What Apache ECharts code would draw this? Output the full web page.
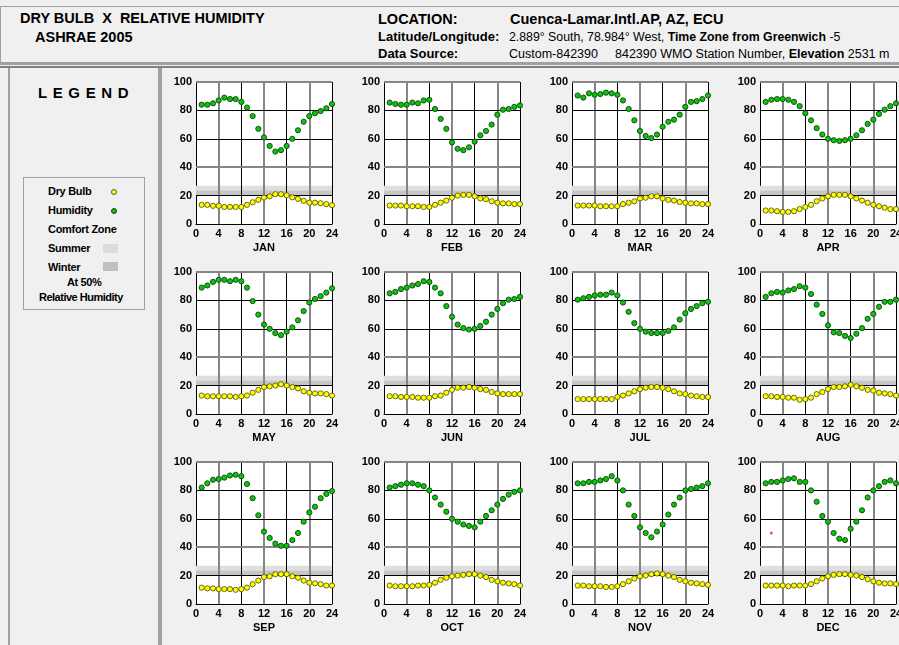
<!DOCTYPE html>
<html><head><meta charset="utf-8">
<script src="https://cdn.jsdelivr.net/npm/echarts@6.0.0/dist/echarts.min.js"></script>
<style>
html,body{margin:0;padding:0;width:899px;height:645px;overflow:hidden;background:#f0f0f0;font-family:"Liberation Sans",Arial,sans-serif;color:#000;}
.abs{position:absolute;white-space:pre;}
.b{font-weight:bold}
#chart{position:absolute;left:0;top:0;width:899px;height:645px;}
.lg{position:absolute;font-size:11px;font-weight:bold;line-height:13px;white-space:pre;letter-spacing:-0.3px}
</style></head><body>
<!-- header panel -->
<div class="abs" style="left:0;top:6px;width:910px;height:55px;border-top:1px solid #a0a0a0;border-left:1px solid #a0a0a0;border-bottom:2px solid #a0a0a0;"></div>
<div class="abs" style="left:0;top:64px;width:910px;height:0;border-top:1px solid #a0a0a0;"></div>
<div class="abs" style="left:0;top:66px;width:910px;height:0;border-top:2px solid #808080;"></div>
<!-- left panel -->
<div class="abs" style="left:8px;top:68px;width:148px;height:590px;border-left:2px solid #a0a0a0;border-right:2px solid #a0a0a0;"></div>
<div class="abs" style="left:160px;top:68px;width:760px;height:590px;border-left:2px solid #a0a0a0;"></div>

<div class="abs b" style="left:20px;top:10px;font-size:14.5px;line-height:16px;">DRY BULB  X  RELATIVE HUMIDITY</div>
<div class="abs b" style="left:35px;top:29px;font-size:14.5px;line-height:16px;">ASHRAE 2005</div>
<div class="abs b" style="left:378px;top:11px;font-size:14.5px;line-height:16px;">LOCATION:</div>
<div class="abs b" style="left:510px;top:11px;font-size:14.5px;line-height:16px;">Cuenca-Lamar.Intl.AP, AZ, ECU</div>
<div class="abs b" style="left:378px;top:30px;font-size:13px;line-height:14px;">Latitude/Longitude:</div>
<div class="abs" style="left:509px;top:30px;font-size:12.3px;line-height:14px;">2.889° South, 78.984° West, <span class="b">Time Zone from Greenwich</span> -5</div>
<div class="abs b" style="left:378px;top:47px;font-size:13px;line-height:14px;">Data Source:</div>
<div class="abs" style="left:509px;top:47px;font-size:12.5px;line-height:14px;">Custom-842390</div>
<div class="abs" style="left:615px;top:47px;font-size:12.5px;line-height:14px;">842390 WMO Station Number, <span class="b">Elevation</span> 2531 m</div>

<div class="abs" style="left:38px;top:84px;font-size:15px;line-height:18px;font-weight:900;letter-spacing:5.6px;">LEGEND</div>
<div class="abs" style="left:23px;top:177px;width:120px;height:131px;border:1px solid #a0a0a0;"></div>
<div class="lg" style="left:48px;top:185px;">Dry Bulb</div>
<div class="abs" style="left:111px;top:189px;width:4px;height:4px;border-radius:50%;background:#ffff00;border:1px solid #555;"></div>
<div class="lg" style="left:48px;top:204px;">Humidity</div>
<div class="abs" style="left:111px;top:208px;width:4px;height:4px;border-radius:50%;background:#00cc00;border:1px solid #333;"></div>
<div class="lg" style="left:48px;top:223px;">Comfort Zone</div>
<div class="lg" style="left:48px;top:242px;">Summer</div>
<div class="abs" style="left:103px;top:244px;width:15px;height:9px;background:#dcdcdc;"></div>
<div class="lg" style="left:48px;top:261px;">Winter</div>
<div class="abs" style="left:103px;top:262px;width:15px;height:9px;background:#c0c0c0;"></div>
<div class="lg" style="left:67px;top:276px;letter-spacing:-0.4px;">At 50%</div>
<div class="lg" style="left:39px;top:291px;letter-spacing:-0.5px;">Relative Humidity</div>

<div id="chart"></div>
<script>
const hours = [1,2,3,4,5,6,7,8,9,10,11,12,13,14,15,16,17,18,19,20,21,22,23,24];
const months = ['JAN','FEB','MAR','APR','MAY','JUN','JUL','AUG','SEP','OCT','NOV','DEC'];

const hum_JAN = [84,84,85,87,89,88,88,86,82,76,67,61,55,51,52,55,60,66,72,76,78,79.5,81.5,84.5];
const dry_JAN = [13.5,13.5,12.8,12.8,12,12,12,12,13.5,15.3,17,18.6,19.5,21,21,20.2,18.8,17.7,16.3,15,15,14.6,14,13.2];
const hum_FEB = [85.5,84.5,84,84,85.5,85,87,87.5,81,74,67,57.5,53,52,54,58,62.5,65.5,70,77,80.5,81,82.5,83.5];
const dry_FEB = [13,13,13,12.5,12.5,12.5,12,12,13.5,15,16.5,18.5,20,20.5,20.5,19.5,18,17.5,16,15,14.5,14.5,14,14];
const hum_MAR = [90.5,89,92,91,91.5,92.5,92,91,87,81,73,65.5,62,60.5,63,68.5,72,73.5,77,82.5,86,86.5,88,90.5];
const dry_MAR = [13,13,13,13,12.5,12.5,12.5,12.5,14,15,16,18,18.5,19.5,19.5,18,17,16.5,15.5,15,14.5,14.5,14,14];
const hum_APR = [86,87.5,88,88,87.5,86,83,78,73,67.5,63,60,59,58.5,59,60,62.5,66,70.5,73.5,77.5,80.5,83,85];
const dry_APR = [9.5,9.5,9,8.5,8.5,9,10.5,12,13.5,16,18,19.5,20.5,20.5,20.5,19.5,18,16.5,15,13.5,12.5,11.5,10.5,10.5];
const hum_MAY = [89,90.5,93,94.5,94.5,93.5,94.5,93.5,89,79.5,70,63,60,57,55.5,58,61,66,72.5,78.5,81,83,85.5,88.5];
const dry_MAY = [13,12.5,12.5,12.5,12.5,12.5,12,12.5,13,15,17,19,19.5,20,21,20,19,18,16,15,14.5,14.5,14,13];
const hum_JUN = [85,86,88,89,90.5,91.5,93.5,93,89,85,76,68.5,63,60.5,59.5,60,62,65,70,74,78,80.5,81,82.5];
const dry_JUN = [12.5,12.5,12,12,12,11.5,11.5,11.5,12.5,13,15,17,18.5,18.5,19,18.5,17.5,17,15.5,14.5,14,14,14,14];
const hum_JUL = [80.5,81.5,82.5,83.5,84,84,85.5,83.5,78.5,72,64,60,58,57,57,57,58.5,61,66.5,71,74,76,78,79];
const dry_JUL = [10.5,10.5,10.5,10.5,10.5,10.5,10.5,12,13,14.5,16,17.5,18.5,19,19,18.5,17.5,16,14.5,14,13,12.5,12,12];
const hum_AUG = [82.5,85,86,85.5,87,88,90,89,84.5,77,70.5,62.5,57.5,57,55,53.5,56.5,60.5,67,70.5,75.5,79,79,80.5];
const dry_AUG = [12.5,12.5,12,12,11.5,11.5,10,10.5,11.5,14,15.5,17.5,19,19,19.5,20.5,19.5,18.5,17,16.5,15,14.5,14,13];
const hum_SEP = [82,85,87.5,88,89,90.5,91,90,84.5,74.5,62.5,51,46.5,42.5,41,41,45,50,58,64.5,68.5,74.5,77.5,79.5];
const dry_SEP = [11.5,11,11,10.5,10.5,10.5,10,10.5,11.5,14,16.5,19,19.5,21,21,21,19.5,18.5,16.5,15,14.5,14,13,13];
const hum_OCT = [82,83,84,85,85,84,83,80,75,70,65,60,58,56,55,54,58,62,66,70,74,77,79,80];
const dry_OCT = [13,12.5,12.5,12.5,12.5,13,13,13.5,15,17,18.5,19.5,20,20.5,21,21,20,19,17,16,15,14.5,14,13];
const hum_NOV = [85,85,86,86,87,88,90,87,80,70,62,54,50,47,51,56,63,70,75,80,81,82,83,85];
const dry_NOV = [13,13,12.5,12.5,12.5,12,12,12.5,14,16,18,19.5,20,21,21.5,21,20,19,17,16,15,14.5,14,13.5];
const hum_DEC = [85,86,86,87,88,88.5,86,86,80,72,62,58,50,46,45,53,58,66,75,80,83,86,87,85];
const dry_DEC = [13,13,13,13,12.5,13,13,13,14,16,18,19.5,20.5,21,21,20.5,20,19,17.5,16,15,14.5,14.5,14];
const marker_DEC = [[2, 50]];

const humidity = [hum_JAN,hum_FEB,hum_MAR,hum_APR,hum_MAY,hum_JUN,hum_JUL,hum_AUG,hum_SEP,hum_OCT,hum_NOV,hum_DEC];
const dryBulb = [dry_JAN,dry_FEB,dry_MAR,dry_APR,dry_MAY,dry_JUN,dry_JUL,dry_AUG,dry_SEP,dry_OCT,dry_NOV,dry_DEC];

const summerZone = [20, 27];
const winterZone = [20, 23.5];
const grayXLines = [4, 12, 20];
const blackXLines = [8, 16, 24];
const grayYLines = [40, 100];
const blackYLines = [20, 60, 80];

const chart = echarts.init(document.getElementById('chart'), null, {renderer: 'canvas'});
const font = {fontFamily: '"Liberation Sans", Arial, sans-serif', fontWeight: 'bold', fontSize: 11, color: '#000'};
const grids = [], xAxes = [], yAxes = [], series = [];
months.forEach((m, i) => {
  const col = i % 4, row = Math.floor(i / 4);
  grids.push({left: 196 + 188 * col, top: 82 + 190 * row, width: 136, height: 142,
    show: true, backgroundColor: '#ffffff', borderWidth: 0, containLabel: false, outerBoundsMode: 'none'});
  xAxes.push({gridIndex: i, type: 'value', min: 0, max: 24, interval: 4,
    name: m, nameLocation: 'middle', nameGap: 18, nameTextStyle: font,
    axisLine: {show: true, onZero: false, lineStyle: {color: '#000', width: 1}},
    axisTick: {show: false}, axisLabel: Object.assign({margin: 4, hideOverlap: false}, font),
    splitLine: {show: false}});
  yAxes.push({gridIndex: i, type: 'value', min: 0, max: 100, interval: 20,
    axisLine: {show: true, onZero: false, lineStyle: {color: '#000', width: 1}},
    axisTick: {show: false}, axisLabel: Object.assign({margin: 4, hideOverlap: false}, font),
    splitLine: {show: false}});
  const lines = [];
  grayXLines.forEach(v => lines.push({xAxis: v, lineStyle: {color: '#858585', width: 2, type: 'solid'}}));
  blackXLines.forEach(v => lines.push({xAxis: v, lineStyle: {color: '#000000', width: 1, type: 'solid'}}));
  blackYLines.forEach(v => lines.push({yAxis: v, lineStyle: {color: '#000000', width: 1, type: 'solid'}}));
  grayYLines.forEach(v => lines.push({yAxis: v, lineStyle: {color: '#858585', width: 2, type: 'solid'}}));
  series.push({type: 'line', xAxisIndex: i, yAxisIndex: i, data: [], silent: true, z: 1,
    markArea: {silent: true, z: 1, data: [
      [{yAxis: summerZone[0], itemStyle: {color: '#dedede', opacity: 1}}, {yAxis: summerZone[1]}],
      [{yAxis: winterZone[0], itemStyle: {color: '#c6c6c6', opacity: 1}}, {yAxis: winterZone[1]}]
    ]},
    markLine: {silent: true, z: 1.5, symbol: ['none', 'none'], label: {show: false},
      emphasis: {disabled: true}, lineStyle: {type: 'solid'}, data: lines}});
  series.push({type: 'scatter', name: 'Humidity', xAxisIndex: i, yAxisIndex: i, z: 3,
    symbolSize: 5.2, data: humidity[i].map((v, j) => [hours[j], v]),
    itemStyle: {color: '#00cc00', borderColor: '#1e3a1e', borderWidth: 0.9, opacity: 1}});
  series.push({type: 'scatter', name: 'Dry Bulb', xAxisIndex: i, yAxisIndex: i, z: 3,
    symbolSize: 5.2, data: dryBulb[i].map((v, j) => [hours[j], v]),
    itemStyle: {color: '#ffff00', borderColor: '#5a5a10', borderWidth: 0.9, opacity: 1}});
  if (m === 'DEC') {
    series.push({type: 'scatter', xAxisIndex: i, yAxisIndex: i, z: 3, symbolSize: 3,
      data: marker_DEC, itemStyle: {color: '#ff2020', borderWidth: 0}});
  }
});
chart.setOption({animation: false, backgroundColor: 'transparent', tooltip: {show: false},
  grid: grids, xAxis: xAxes, yAxis: yAxes, series: series});
</script>
</body></html>
